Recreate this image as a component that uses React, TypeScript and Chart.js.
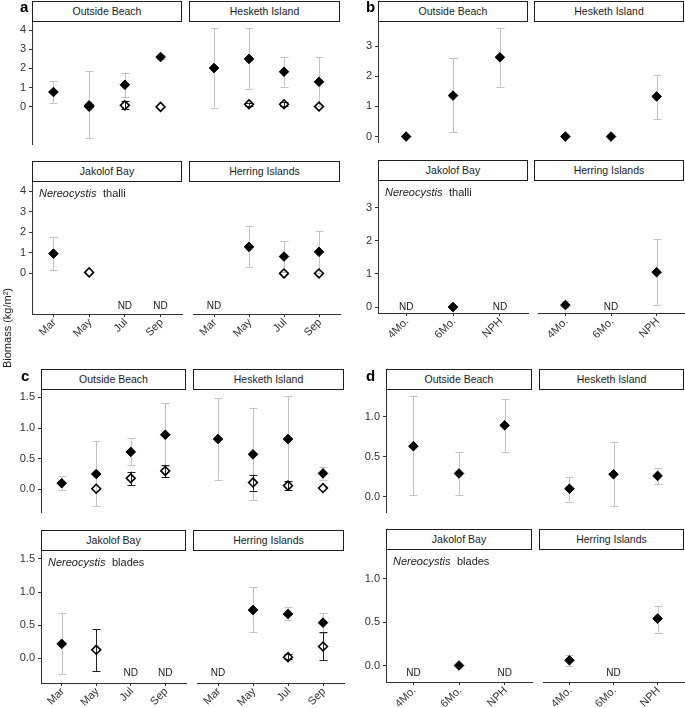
import React, { useEffect, useRef } from "react";
import { Chart, registerables } from "chart.js";

Chart.register(...registerables);

const FONT = "'Liberation Sans', Arial, Helvetica, sans-serif";

type V = number | null;

// ---------- categories / labels ----------
const MONTHS = ["Mar", "May", "Jul", "Sep"];
const AGES = ["4Mo.", "6Mo.", "NPH"];
const TOP_SITES = ["Outside Beach", "Hesketh Island"];
const BOTTOM_SITES = ["Jakolof Bay", "Herring Islands"];
const NOTE_THALLI = ["Nereocystis", "thalli"];
const NOTE_BLADES = ["Nereocystis", "blades"];
const Y_TITLE = "Biomass (kg/m\u00B2)";

const N4: V[] = [null, null, null, null];
const N3: V[] = [null, null, null];

// ---------- y axes ----------
const A_YRANGE = [-1.97, 4.44];
const A_YTICKS = [0, 1, 2, 3, 4];
const A_YLABELS = ["0", "1", "2", "3", "4"];
const B_YRANGE = [-0.18, 3.8];
const B_YTICKS = [0, 1, 2, 3];
const B_YLABELS = ["0", "1", "2", "3"];
const C_YRANGE = [-0.37, 1.62];
const C_YTICKS = [0, 0.5, 1, 1.5];
const C_YLABELS = ["0.0", "0.5", "1.0", "1.5"];
const D_YRANGE = [-0.19, 1.33];
const D_YTICKS = [0, 0.5, 1];
const D_YLABELS = ["0.0", "0.5", "1.0"];
const ND_Y = { a: -1.58, b: 0, c: -0.22, d: -0.09 };

// ---------- panel a : thalli by month ----------
const A_OB_F: V[] = [0.76, 0.06, 1.14, 2.6];
const A_OB_F_LO: V[] = [0.2, -1.67, 0.5, 2.5];
const A_OB_F_HI: V[] = [1.33, 1.84, 1.78, 2.72];
const A_OB_H: V[] = [null, 0.0, 0.06, -0.02];
const A_OB_H_LO: V[] = [null, null, -0.14, null];
const A_OB_H_HI: V[] = [null, null, 0.27, null];

const A_HI_F: V[] = [2.02, 2.5, 1.83, 1.3];
const A_HI_F_LO: V[] = [-0.06, 0.9, 1.04, 0.03];
const A_HI_F_HI: V[] = [4.13, 4.13, 2.61, 2.58];
const A_HI_H: V[] = [null, 0.12, 0.12, 0.0];
const A_HI_H_LO: V[] = [null, 0.03, 0.03, null];
const A_HI_H_HI: V[] = [null, 0.2, 0.22, null];

const A_JB_F: V[] = [0.96, null, null, null];
const A_JB_F_LO: V[] = [0.15, null, null, null];
const A_JB_F_HI: V[] = [1.78, null, null, null];
const A_JB_H: V[] = [null, 0.05, null, null];
const A_JB_ND = [false, false, true, true];

const A_HR_F: V[] = [null, 1.29, 0.82, 1.05];
const A_HR_F_LO: V[] = [null, 0.32, 0.05, 0.03];
const A_HR_F_HI: V[] = [null, 2.28, 1.57, 2.07];
const A_HR_H: V[] = [null, null, 0.0, 0.0];
const A_HR_ND = [true, false, false, false];

// ---------- panel b : thalli by age class ----------
const B_OB_F: V[] = [0.0, 1.36, 2.63];
const B_OB_F_LO: V[] = [null, 0.14, 1.66];
const B_OB_F_HI: V[] = [null, 2.59, 3.61];
const B_HI_F: V[] = [0.0, 0.0, 1.33];
const B_HI_F_LO: V[] = [null, null, 0.59];
const B_HI_F_HI: V[] = [null, null, 2.05];
const B_JB_F: V[] = [null, 0.0, null];
const B_JB_ND = [true, false, true];
const B_HR_F: V[] = [0.06, null, 1.05];
const B_HR_F_LO: V[] = [0.0, null, 0.05];
const B_HR_F_HI: V[] = [0.17, null, 2.04];
const B_HR_ND = [false, true, false];

// ---------- panel c : blades by month ----------
const C_OB_F: V[] = [0.1, 0.25, 0.61, 0.89];
const C_OB_F_LO: V[] = [-0.01, -0.28, 0.39, 0.38];
const C_OB_F_HI: V[] = [0.22, 0.79, 0.84, 1.4];
const C_OB_H: V[] = [null, 0.01, 0.18, 0.3];
const C_OB_H_LO: V[] = [null, null, 0.07, 0.2];
const C_OB_H_HI: V[] = [null, null, 0.29, 0.4];

const C_HI_F: V[] = [0.82, 0.57, 0.82, 0.26];
const C_HI_F_LO: V[] = [0.16, -0.17, 0.12, 0.15];
const C_HI_F_HI: V[] = [1.49, 1.33, 1.52, 0.37];
const C_HI_H: V[] = [null, 0.11, 0.06, 0.02];
const C_HI_H_LO: V[] = [null, -0.02, -0.01, null];
const C_HI_H_HI: V[] = [null, 0.24, 0.14, null];

const C_JB_F: V[] = [0.22, null, null, null];
const C_JB_F_LO: V[] = [-0.23, null, null, null];
const C_JB_F_HI: V[] = [0.68, null, null, null];
const C_JB_H: V[] = [null, 0.13, null, null];
const C_JB_H_LO: V[] = [null, -0.19, null, null];
const C_JB_H_HI: V[] = [null, 0.44, null, null];
const C_JB_ND = [false, false, true, true];

const C_HR_F: V[] = [null, 0.73, 0.67, 0.54];
const C_HR_F_LO: V[] = [null, 0.4, 0.58, 0.39];
const C_HR_F_HI: V[] = [null, 1.07, 0.77, 0.69];
const C_HR_H: V[] = [null, null, 0.02, 0.18];
const C_HR_H_LO: V[] = [null, null, -0.01, -0.03];
const C_HR_H_HI: V[] = [null, null, 0.06, 0.4];
const C_HR_ND = [true, false, false, false];

// ---------- panel d : blades by age class ----------
const D_OB_F: V[] = [0.63, 0.29, 0.89];
const D_OB_F_LO: V[] = [0.02, 0.02, 0.56];
const D_OB_F_HI: V[] = [1.26, 0.56, 1.22];
const D_HI_F: V[] = [0.1, 0.28, 0.26];
const D_HI_F_LO: V[] = [-0.06, -0.12, 0.16];
const D_HI_F_HI: V[] = [0.25, 0.68, 0.36];
const D_JB_F: V[] = [null, 0.0, null];
const D_JB_ND = [true, false, true];
const D_HR_F: V[] = [0.06, null, 0.54];
const D_HR_F_LO: V[] = [0.0, null, 0.38];
const D_HR_F_HI: V[] = [0.12, null, 0.69];
const D_HR_ND = [false, true, false];

// ---------- layout (pixels) ----------
type PanelLayout = { cols: number[][]; rows: number[][]; letter: number[] };
const LAYOUT: Record<string, PanelLayout> = {
  a: { cols: [[32, 182], [189, 340]], rows: [[22, 154], [182, 314]], letter: [20, -1] },
  b: { cols: [[378, 528], [534, 684]], rows: [[22, 152], [181, 313]], letter: [366, -1] },
  c: { cols: [[41, 186], [193, 344]], rows: [[390, 522], [551, 683]], letter: [21, 368] },
  d: { cols: [[386, 532], [539, 684]], rows: [[390, 522], [550, 682]], letter: [366, 368] },
};
const STRIP_H = 21;

const AXIS_COLOR = "#333333";
const TICK_TEXT = "#333333";
const ERR_GRAY = "#c4c4c4";
const ERR_DARK = "#222222";

type Site = {
  name: string;
  f: V[]; fLo: V[]; fHi: V[];
  h: V[]; hLo: V[]; hHi: V[];
  nd: boolean[];
};
type FacetDef = {
  key: string;
  x0: number; x1: number; y0: number; y1: number;
  cats: string[];
  showY: boolean; showX: boolean;
  yMin: number; yMax: number; yTicks: number[]; yLabels: string[];
  site: Site;
  ndY: number;
  note: string[] | null;
};

function site(name: string, f: V[], fLo: V[], fHi: V[], h: V[], hLo: V[], hHi: V[], nd: boolean[]): Site {
  return { name, f, fLo, fHi, h, hLo, hHi, nd };
}

function buildPanel(
  letter: string, cats: string[], yr: number[], ticks: number[], labels: string[],
  note: string[], sites: Site[]
): FacetDef[] {
  const L = LAYOUT[letter];
  const out: FacetDef[] = [];
  sites.forEach((s, i) => {
    const r = Math.floor(i / 2);
    const c = i % 2;
    out.push({
      key: letter + i,
      x0: L.cols[c][0], x1: L.cols[c][1], y0: L.rows[r][0], y1: L.rows[r][1],
      cats, showY: c === 0, showX: r === 1,
      yMin: yr[0], yMax: yr[1], yTicks: ticks, yLabels: labels,
      site: s, ndY: (ND_Y as any)[letter],
      note: r === 1 && c === 0 ? note : null,
    });
  });
  return out;
}

const F4 = [false, false, false, false];
const F3 = [false, false, false];

const FACETS: FacetDef[] = [
  ...buildPanel("a", MONTHS, A_YRANGE, A_YTICKS, A_YLABELS, NOTE_THALLI, [
    site(TOP_SITES[0], A_OB_F, A_OB_F_LO, A_OB_F_HI, A_OB_H, A_OB_H_LO, A_OB_H_HI, F4),
    site(TOP_SITES[1], A_HI_F, A_HI_F_LO, A_HI_F_HI, A_HI_H, A_HI_H_LO, A_HI_H_HI, F4),
    site(BOTTOM_SITES[0], A_JB_F, A_JB_F_LO, A_JB_F_HI, A_JB_H, N4, N4, A_JB_ND),
    site(BOTTOM_SITES[1], A_HR_F, A_HR_F_LO, A_HR_F_HI, A_HR_H, N4, N4, A_HR_ND),
  ]),
  ...buildPanel("b", AGES, B_YRANGE, B_YTICKS, B_YLABELS, NOTE_THALLI, [
    site(TOP_SITES[0], B_OB_F, B_OB_F_LO, B_OB_F_HI, N3, N3, N3, F3),
    site(TOP_SITES[1], B_HI_F, B_HI_F_LO, B_HI_F_HI, N3, N3, N3, F3),
    site(BOTTOM_SITES[0], B_JB_F, N3, N3, N3, N3, N3, B_JB_ND),
    site(BOTTOM_SITES[1], B_HR_F, B_HR_F_LO, B_HR_F_HI, N3, N3, N3, B_HR_ND),
  ]),
  ...buildPanel("c", MONTHS, C_YRANGE, C_YTICKS, C_YLABELS, NOTE_BLADES, [
    site(TOP_SITES[0], C_OB_F, C_OB_F_LO, C_OB_F_HI, C_OB_H, C_OB_H_LO, C_OB_H_HI, F4),
    site(TOP_SITES[1], C_HI_F, C_HI_F_LO, C_HI_F_HI, C_HI_H, C_HI_H_LO, C_HI_H_HI, F4),
    site(BOTTOM_SITES[0], C_JB_F, C_JB_F_LO, C_JB_F_HI, C_JB_H, C_JB_H_LO, C_JB_H_HI, C_JB_ND),
    site(BOTTOM_SITES[1], C_HR_F, C_HR_F_LO, C_HR_F_HI, C_HR_H, C_HR_H_LO, C_HR_H_HI, C_HR_ND),
  ]),
  ...buildPanel("d", AGES, D_YRANGE, D_YTICKS, D_YLABELS, NOTE_BLADES, [
    site(TOP_SITES[0], D_OB_F, D_OB_F_LO, D_OB_F_HI, N3, N3, N3, F3),
    site(TOP_SITES[1], D_HI_F, D_HI_F_LO, D_HI_F_HI, N3, N3, N3, F3),
    site(BOTTOM_SITES[0], D_JB_F, N3, N3, N3, N3, N3, D_JB_ND),
    site(BOTTOM_SITES[1], D_HR_F, D_HR_F_LO, D_HR_F_HI, N3, N3, N3, D_HR_ND),
  ]),
];

// margins around each facet's plot area inside its canvas
function margins(f: FacetDef) {
  return {
    ML: f.showY ? 30 : 4,
    MR: 6,
    MT: 10,
    MB: f.showX ? 40 : 10,
  };
}

function toPoints(vals: V[]) {
  const pts: { x: number; y: number }[] = [];
  vals.forEach((v, i) => {
    if (v !== null) pts.push({ x: i + 1, y: v });
  });
  return pts;
}

function Facet({ f }: { f: FacetDef }) {
  const ref = useRef<HTMLCanvasElement | null>(null);
  const m = margins(f);
  const w = m.ML + (f.x1 - f.x0) + m.MR;
  const h = m.MT + (f.y1 - f.y0) + m.MB;

  useEffect(() => {
    if (!ref.current) return;
    const s = f.site;
    const n = f.cats.length;

    const drawErr = (chart: any, lo: V[], hi: V[], color: string) => {
      const { ctx, scales } = chart;
      const xs = scales.x;
      const ys = scales.y;
      ctx.save();
      ctx.strokeStyle = color;
      ctx.lineWidth = 1;
      lo.forEach((l, i) => {
        const u = hi[i];
        if (l === null || u === null) return;
        const px = Math.round(xs.getPixelForValue(i + 1)) + 0.5;
        const pl = ys.getPixelForValue(l);
        const pu = ys.getPixelForValue(u);
        ctx.beginPath();
        ctx.moveTo(px, pl);
        ctx.lineTo(px, pu);
        ctx.moveTo(px - 4, Math.round(pl) + 0.5);
        ctx.lineTo(px + 4, Math.round(pl) + 0.5);
        ctx.moveTo(px - 4, Math.round(pu) + 0.5);
        ctx.lineTo(px + 4, Math.round(pu) + 0.5);
        ctx.stroke();
      });
      ctx.restore();
    };

    const plugin = {
      id: "facetExtras",
      beforeDatasetsDraw(chart: any) {
        drawErr(chart, s.fLo, s.fHi, ERR_GRAY);
        drawErr(chart, s.hLo, s.hHi, ERR_DARK);
      },
      afterDatasetsDraw(chart: any) {
        const { ctx, scales, chartArea } = chart;
        ctx.save();
        ctx.fillStyle = "#1a1a1a";
        ctx.font = `10px ${FONT}`;
        ctx.textAlign = "center";
        ctx.textBaseline = "middle";
        s.nd.forEach((isNd, i) => {
          if (!isNd) return;
          ctx.fillText("ND", scales.x.getPixelForValue(i + 1), scales.y.getPixelForValue(f.ndY));
        });
        if (f.note) {
          const x = chartArea.left + 7;
          const y = chartArea.top + 15;
          ctx.textAlign = "left";
          ctx.textBaseline = "alphabetic";
          ctx.font = `italic 11px ${FONT}`;
          ctx.fillText(f.note[0], x, y);
          const wI = ctx.measureText(f.note[0]).width;
          ctx.font = `11px ${FONT}`;
          ctx.fillText(f.note[1], x + wI + 6.5, y);
        }
        ctx.restore();
      },
    };

    const chart = new Chart(ref.current, {
      type: "scatter",
      data: {
        datasets: [
          {
            label: "hollow",
            data: toPoints(s.h),
            pointStyle: "rectRot",
            pointRadius: 4.4,
            pointHoverRadius: 4.4,
            backgroundColor: "rgba(255,255,255,0)",
            borderColor: "#000",
            borderWidth: 1.6,
          },
          {
            label: "filled",
            data: toPoints(s.f),
            pointStyle: "rectRot",
            pointRadius: 4.8,
            pointHoverRadius: 4.8,
            backgroundColor: "#000",
            borderColor: "#000",
            borderWidth: 1,
          },
        ],
      },
      options: {
        animation: false,
        responsive: false,
        events: [],
        layout: {
          padding: {
            left: f.showY ? 0 : m.ML,
            right: m.MR,
            top: m.MT,
            bottom: f.showX ? 0 : m.MB,
          },
        },
        plugins: { legend: { display: false }, tooltip: { enabled: false } },
        scales: {
          x: {
            type: "linear",
            min: 0.4,
            max: n + 0.6,
            display: f.showX,
            afterBuildTicks: (sc: any) => {
              sc.ticks = f.cats.map((_, i) => ({ value: i + 1 }));
            },
            afterFit: (sc: any) => {
              sc.height = m.MB;
            },
            ticks: {
              autoSkip: false,
              minRotation: 45,
              maxRotation: 45,
              padding: -1,
              labelOffset: 1,
              color: TICK_TEXT,
              font: { family: FONT, size: 11 },
              callback: (_v: any, i: number) => f.cats[i],
            },
            grid: { display: true, drawOnChartArea: false, drawTicks: true, tickLength: 3, color: AXIS_COLOR, lineWidth: 1 },
            border: { display: true, color: AXIS_COLOR, width: 1 },
          },
          y: {
            type: "linear",
            min: f.yMin,
            max: f.yMax,
            display: f.showY,
            afterBuildTicks: (sc: any) => {
              sc.ticks = f.yTicks.map((v) => ({ value: v }));
            },
            afterFit: (sc: any) => {
              sc.width = m.ML;
            },
            ticks: {
              autoSkip: false,
              padding: 3,
              color: TICK_TEXT,
              font: { family: FONT, size: 11 },
              callback: (_v: any, i: number) => f.yLabels[i],
            },
            grid: { display: true, drawOnChartArea: false, drawTicks: true, tickLength: 3, color: AXIS_COLOR, lineWidth: 1 },
            border: { display: true, color: AXIS_COLOR, width: 1 },
          },
        },
      },
      plugins: [plugin],
    } as any);
    return () => chart.destroy();
  }, []);

  return (
    <canvas
      ref={ref}
      width={w}
      height={h}
      style={{ position: "absolute", left: f.x0 - m.ML, top: f.y0 - m.MT, width: w, height: h }}
    />
  );
}

function Strip({ f }: { f: FacetDef }) {
  return (
    <div
      style={{
        position: "absolute",
        left: f.x0,
        top: f.y0 - STRIP_H,
        width: f.x1 - f.x0,
        height: STRIP_H,
        boxSizing: "border-box",
        border: "1px solid #1f1f1f",
        background: "#fff",
        font: `10.5px ${FONT}`,
        lineHeight: `${STRIP_H - 2}px`,
        textAlign: "center",
        color: "#1a1a1a",
        zIndex: 2,
      }}
    >
      {f.site.name}
    </div>
  );
}

export default function App() {
  return (
    <div
      style={{
        position: "absolute",
        left: 0,
        top: 0,
        width: 685,
        height: 708,
        overflow: "hidden",
        background: "#fff",
        fontFamily: FONT,
      }}
    >
      {FACETS.map((f) => (
        <Facet key={f.key} f={f} />
      ))}
      {FACETS.map((f) => (
        <Strip key={"s" + f.key} f={f} />
      ))}
      {Object.keys(LAYOUT).map((k) => (
        <div
          key={"l" + k}
          style={{
            position: "absolute",
            left: LAYOUT[k].letter[0],
            top: LAYOUT[k].letter[1],
            font: `bold 15px ${FONT}`,
            lineHeight: "15px",
            color: "#000",
            zIndex: 3,
          }}
        >
          {k}
        </div>
      ))}
      <div
        style={{
          position: "absolute",
          left: 7,
          top: 328,
          transform: "translate(-50%, -50%) rotate(-90deg)",
          font: `11px ${FONT}`,
          color: "#1a1a1a",
          whiteSpace: "nowrap",
        }}
      >
        {Y_TITLE}
      </div>
    </div>
  );
}
